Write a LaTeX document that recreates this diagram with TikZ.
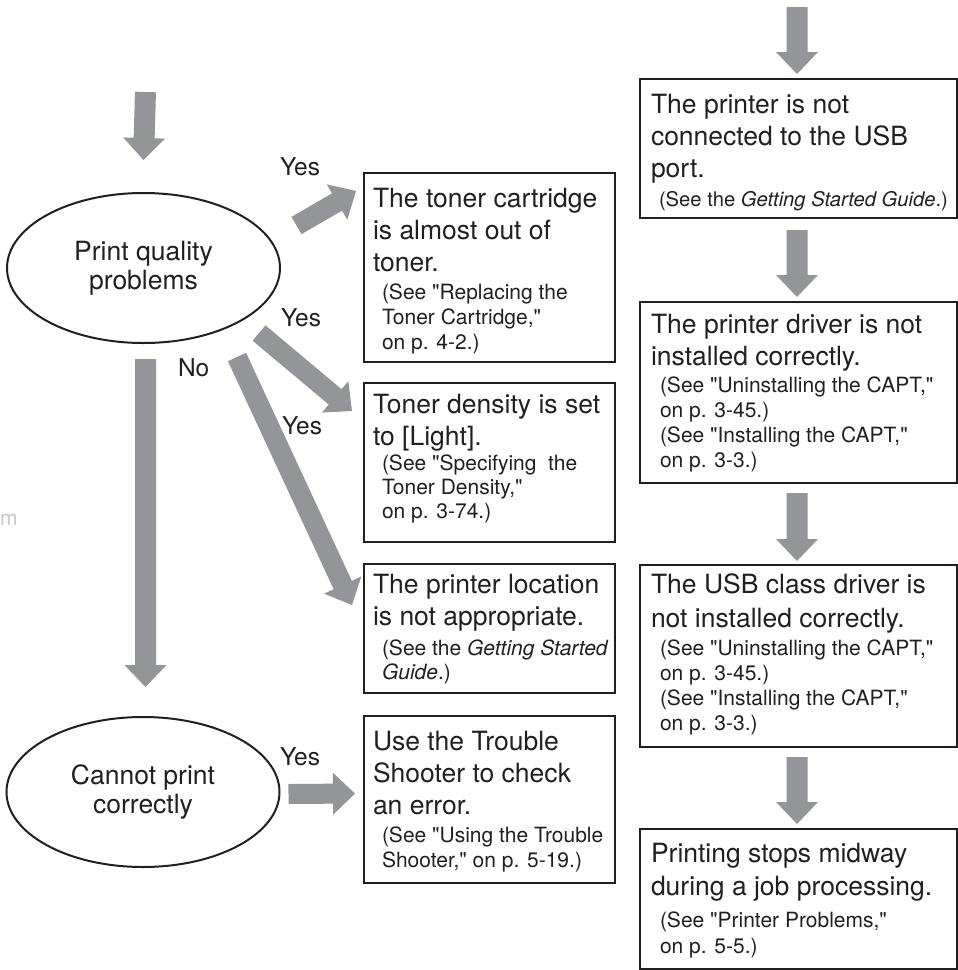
\documentclass[tikz,border=0pt]{standalone}
\usepackage{fontspec}
\setmainfont{TeX Gyre Heros}[Ligatures=TeXOff]
\usetikzlibrary{calc,shapes.geometric}
\definecolor{arrowgray}{RGB}{147,149,152}
\definecolor{ink}{RGB}{35,31,32}
\definecolor{faint}{RGB}{200,200,200}
\newcommand\mtx[1]{\hbox{\fontsize{26.5}{32}\selectfont #1}}
\newcommand\stx[1]{\hbox{\hskip9pt\relax\fontsize{21}{25}\selectfont #1}}
\newcommand\bskip[1]{\baselineskip=#1pt\relax}
\newcommand\btext[2]{\vtop{\lineskiplimit=-\maxdimen\bskip{32}#1\bskip{28}#2}}
% block arrow: tail, tip, half shaft, half head
\newcommand\blk[4]{%
  \path coordinate (bh) at ($(#2)!22pt!(#1)$);
  \fill[arrowgray] ($(#1)!#3!90:(#2)$) -- ($(bh)!#3!-90:(#1)$) -- ($(bh)!#4!-90:(#1)$)
    -- (#2) -- ($(bh)!#4!90:(#1)$) -- ($(bh)!#3!90:(#1)$) -- ($(#1)!#3!-90:(#2)$) -- cycle;}
\tikzset{
  frame/.style={draw=ink, line width=2.4pt, rectangle, inner sep=0pt, outer sep=0pt, anchor=north west},
  oval/.style={draw=ink, line width=2pt, ellipse, inner sep=0pt, outer sep=0pt,
    minimum width=273pt, minimum height=150pt, align=center,
    font=\fontsize{26.5}{29}\selectfont, text=ink},
  lbl/.style={anchor=base west, inner sep=0pt, outer sep=0pt, text=ink, font=\fontsize{24.5}{29}\selectfont},
  boxtxt/.style={anchor=base west, inner sep=0pt, outer sep=0pt, text=ink},
}
\begin{document}
\begin{tikzpicture}[x=1pt,y=-1pt]
\fill[white] (0,0) rectangle (958,970);
\useasboundingbox (0,0) rectangle (958,970);

% ellipses
\node[oval] (pq) at (143.5,268) {Print quality\\problems};
\node[oval] (cp) at (143,792) {Cannot print\\correctly};

% left column boxes
\node[frame, minimum width=251pt, minimum height=189pt] (A) at (364,173) {};
\node[frame, minimum width=251pt, minimum height=159pt] (B) at (364,383) {};
\node[frame, minimum width=251pt, minimum height=129pt] (C) at (364,564) {};
\node[frame, minimum width=251pt, minimum height=167pt] (D) at (364,716) {};
% right column boxes
\node[frame, minimum width=317pt, minimum height=139pt] (E) at (640,79) {};
\node[frame, minimum width=317pt, minimum height=181pt] (F) at (640,302) {};
\node[frame, minimum width=317pt, minimum height=182pt] (G) at (640,565) {};
\node[frame, minimum width=317pt, minimum height=140pt] (H) at (640,829) {};

% box texts
\node[boxtxt] (At) at ($(A.north west)+(9,34)$) {\btext{\mtx{The toner cartridge}\mtx{is almost out of}\mtx{toner.}}{\stx{(See "Replacing the}\bskip{25}\stx{Toner Cartridge,"}\stx{on p. 4-2.)}}};
\node[boxtxt] (Bt) at ($(B.north west)+(9,30)$) {\btext{\mtx{Toner density is set}\mtx{to [Light].}}{\bskip{25}\stx{(See "Specifying\ \ the}\bskip{24}\stx{Toner Density,"}\stx{on p. 3-74.)}}};
\node[boxtxt] (Ct) at ($(C.north west)+(9,29)$) {\btext{\mtx{The printer location}\mtx{is not appropriate.}}{\bskip{30}\stx{(See the \textit{Getting Started}}\bskip{24}\stx{\textit{Guide}.)}}};
\node[boxtxt] (Dt) at ($(D.north west)+(9,34)$) {\btext{\mtx{Use the Trouble}\mtx{Shooter to check}\mtx{an error.}}{\stx{(See "Using the Trouble}\bskip{25}\stx{Shooter," on p. 5-19.)}}};

\node[boxtxt] (Et) at ($(E.north west)+(11,34)$) {\btext{\mtx{The printer is not}\mtx{connected to the USB}\mtx{port.}}{\bskip{29}\hbox{\hskip8pt\relax\fontsize{20.2}{25}\selectfont (See the \textit{Getting Started Guide}.)}}};
\node[boxtxt] (Ft) at ($(F.north west)+(11,31)$) {\btext{\mtx{The printer driver is not}\mtx{installed correctly.}}{\bskip{27}\stx{(See "Uninstalling the CAPT,"}\bskip{25}\stx{on p. 3-45.)}\stx{(See "Installing the CAPT,"}\stx{on p. 3-3.)}}};
\node[boxtxt] (Gt) at ($(G.north west)+(11,28)$) {\btext{\mtx{The USB class driver is}\bskip{34}\mtx{not installed correctly.}}{\stx{(See "Uninstalling the CAPT,"}\bskip{25}\stx{on p. 3-45.)}\stx{(See "Installing the CAPT,"}\stx{on p. 3-3.)}}};
\node[boxtxt] (Ht) at ($(H.north west)+(11,33)$) {\btext{\mtx{Printing stops midway}\bskip{33}\mtx{during a job processing.}}{\bskip{32}\stx{(See "Printer Problems,"}\bskip{26}\stx{on p. 5-5.)}}};

% labels
\node[lbl] (y1) at (280,175) {Yes};
\node[lbl] (y2) at (281,326) {Yes};
\node[lbl] (y3) at (282,434) {Yes};
\node[lbl] (no) at (178,376) {No};
\node[lbl] (y4) at (280,765) {Yes};
\node[anchor=base west, inner sep=0pt, text=faint, font=\fontsize{21}{25}\selectfont] (mm) at (0,525) {m};

% arrow end points
\coordinate (s0) at (145.5,92);   \coordinate (e0) at ($(pq.north)+(0,-33)$);
\coordinate (sNo) at ($(pq.south)+(2,16)$); \coordinate (eNo) at ($(cp.north)+(2.5,-30)$);
\coordinate (s1) at (296.5,225.5); \coordinate (e1) at ($(A.north west)+(-8,18)$);
\coordinate (s2) at (259,333);     \coordinate (e2) at ($(B.north west)+(-12,28)$);
\coordinate (s3) at (237,357);     \coordinate (e3) at ($(C.north west)+(-12,41)$);
\coordinate (s4) at ($(cp.east)+(9,2)$); \coordinate (e4) at ($(D.west)+(-9,-6)$);
\coordinate (r0s) at (797,7);     \coordinate (r0e) at ($(E.north)+(-1.5,-5)$);
\coordinate (r1s) at ($(E.south)+(-1.5,12)$); \coordinate (r1e) at ($(F.north)+(-1.5,-5)$);
\coordinate (r2s) at ($(F.south)+(-1.5,10)$); \coordinate (r2e) at ($(G.north)+(-1.5,-4)$);
\coordinate (r3s) at ($(G.south)+(-1.5,10)$); \coordinate (r3e) at ($(H.north)+(-1.5,-5)$);

\blk{s0}{e0}{10.5pt}{21pt}
\blk{sNo}{eNo}{10.5pt}{21pt}
\blk{s1}{e1}{10pt}{20.5pt}
\blk{s2}{e2}{10pt}{20.5pt}
\blk{s3}{e3}{10pt}{20.5pt}
\blk{s4}{e4}{10pt}{21pt}
\blk{r0s}{r0e}{10.5pt}{21pt}
\blk{r1s}{r1e}{10.5pt}{21pt}
\blk{r2s}{r2e}{10.5pt}{21pt}
\blk{r3s}{r3e}{10.5pt}{21pt}
\end{tikzpicture}
\end{document}
